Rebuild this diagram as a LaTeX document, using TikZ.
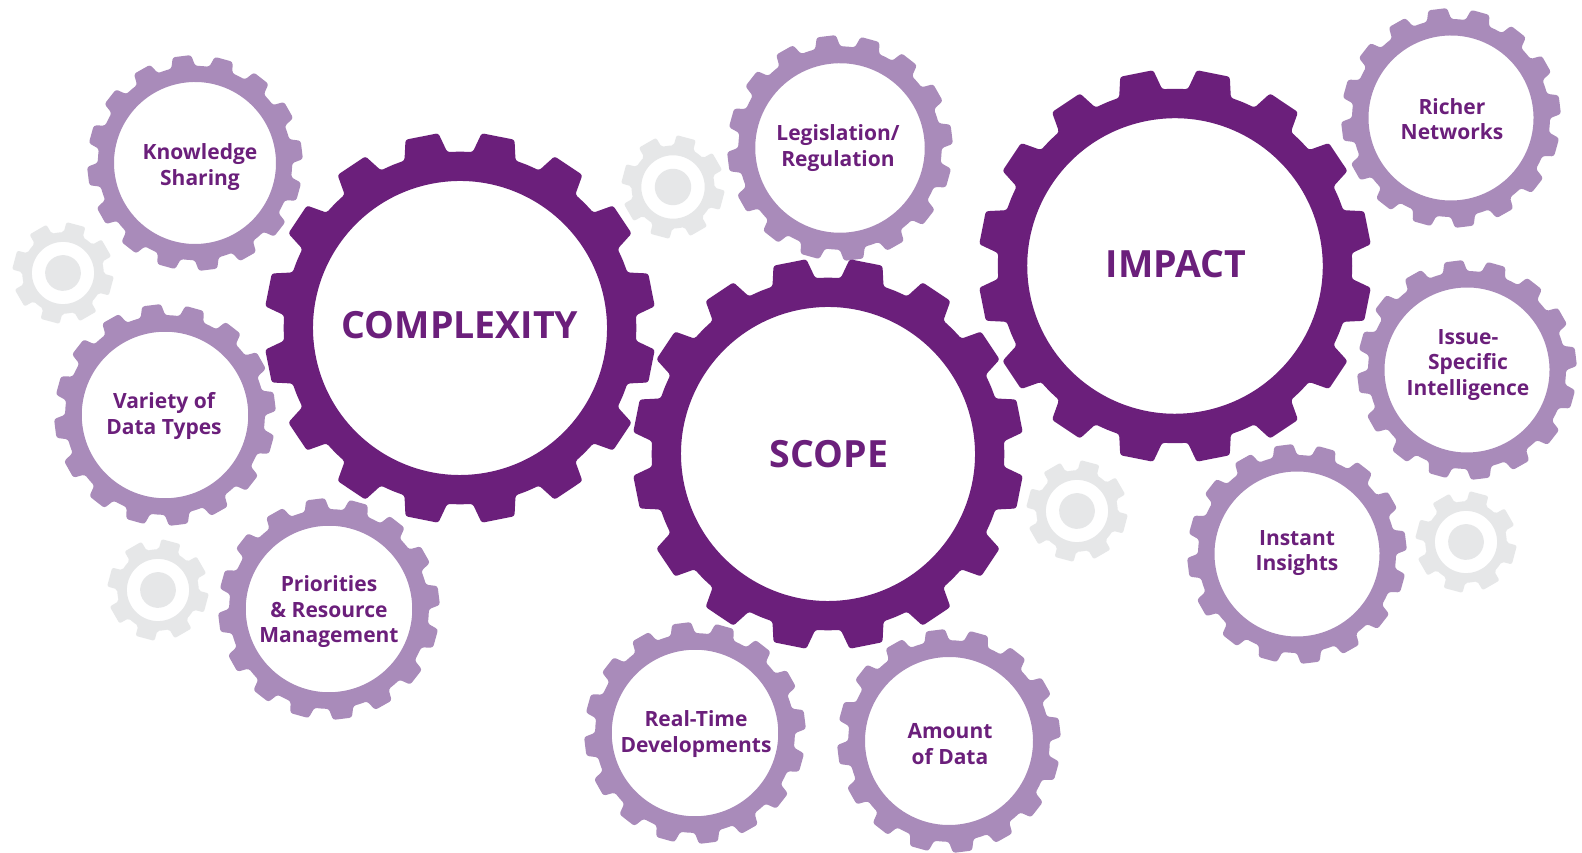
\documentclass[tikz,border=0pt]{standalone}
\usepackage{fontspec}
\setmainfont{Open Sans}
\definecolor{dark}{HTML}{6B1F7B}
\definecolor{light}{HTML}{A98BBA}
\definecolor{cog}{HTML}{E6E7E8}
% #1 cx, #2 cy (pixels from top), #3 tip radius, #4 rotation, #5 colour
\newcommand\ringgear[5]{%
  \begin{scope}[shift={({#1},{853-#2})}, rotate=#4, scale=#3]
    \fill[#5, even odd rule, rounded corners=2.5pt]
      (-11.25:0.9)
      \foreach \k in {0,...,14}{
        -- ({\k*22.5-7.1}:0.9) -- ({\k*22.5-4.9}:1) -- ({\k*22.5+4.9}:1)
        -- ({\k*22.5+7.1}:0.9) -- ({\k*22.5+11.25}:0.9)}
      -- ({337.5-7.1}:0.9) -- ({337.5-4.9}:1) -- ({337.5+4.9}:1)
      -- ({337.5+7.1}:0.9) -- cycle
      (0,0) circle (0.75);
  \end{scope}}
\newcommand\greycog[4]{%
  \begin{scope}[shift={({#1},{853-#2})}, rotate=#4, scale=#3]
    \fill[cog, even odd rule, rounded corners=2pt]
      (-22.5:0.8)
      \foreach \k in {0,...,6}{
        -- ({\k*45-14}:0.8) -- ({\k*45-11}:1) -- ({\k*45+11}:1)
        -- ({\k*45+14}:0.8) -- ({\k*45+22.5}:0.8)}
      -- ({315-14}:0.8) -- ({315-11}:1) -- ({315+11}:1)
      -- ({315+14}:0.8) -- cycle
      (0,0) circle (0.61) (0,0) circle (0.35);
  \end{scope}}
\tikzset{
  bigtxt/.style={text=dark, font=\bfseries\fontsize{37.5}{42}\selectfont},
  smalltxt/.style={text=dark, align=center, font=\bfseries\fontsize{21}{25.5}\selectfont}
}
\begin{document}
\begin{tikzpicture}[x=1pt, y=1pt]
  \fill[white] (0,0) rectangle (1582,853);
  \useasboundingbox (0,0) rectangle (1582,853);
  % grey cogs
  \greycog{63}{273}{51}{30}
  \greycog{673}{187}{52}{30}
  \greycog{158}{590}{51}{30}
  \greycog{1077}{511}{51}{30}
  \greycog{1466}{542}{51}{30}
  % light gears
  \ringgear{195}{163}{108}{7}{light}
  \ringgear{165}{415}{111}{7}{light}
  \ringgear{329}{609}{111}{7}{light}
  \ringgear{840}{148}{113}{7}{light}
  \ringgear{695}{733}{111}{7}{light}
  \ringgear{949}{741}{112}{7}{light}
  \ringgear{1451}{118}{110}{7}{light}
  \ringgear{1467}{370}{110}{7}{light}
  \ringgear{1297}{554}{110}{7}{light}
  % dark gears
  \ringgear{460}{328}{196}{11.25}{dark}
  \ringgear{828}{454}{196}{11.25}{dark}
  \ringgear{1175}{266}{197}{11.25}{dark}
  % labels
  \node[bigtxt] (complexity) at (460,528) {COMPLEXITY};
  \node[bigtxt] (scope) at (829,399) {SCOPE};
  \node[bigtxt] (impact) at (1176,589) {IMPACT};
  \node[smalltxt] (knowledge) at (200,686) {Knowledge\\Sharing};
  \node[smalltxt] (variety) at (164,437) {Variety of\\Data Types};
  \node[smalltxt] (priorities) at (329,241) {Priorities\\\& Resource\\Management};
  \node[smalltxt] (legislation) at (838,705) {Legislation/\\Regulation};
  \node[smalltxt] (realtime) at (696,119) {Real-Time\\Developments};
  \node[smalltxt] (amount) at (950,109) {Amount\\of Data};
  \node[smalltxt] (richer) at (1452,734) {Richer\\Networks};
  \node[smalltxt] (issue) at (1468,488) {Issue-\\Specific\\Intelligence};
  \node[smalltxt] (instant) at (1297,300) {Instant\\Insights};
\end{tikzpicture}
\end{document}
